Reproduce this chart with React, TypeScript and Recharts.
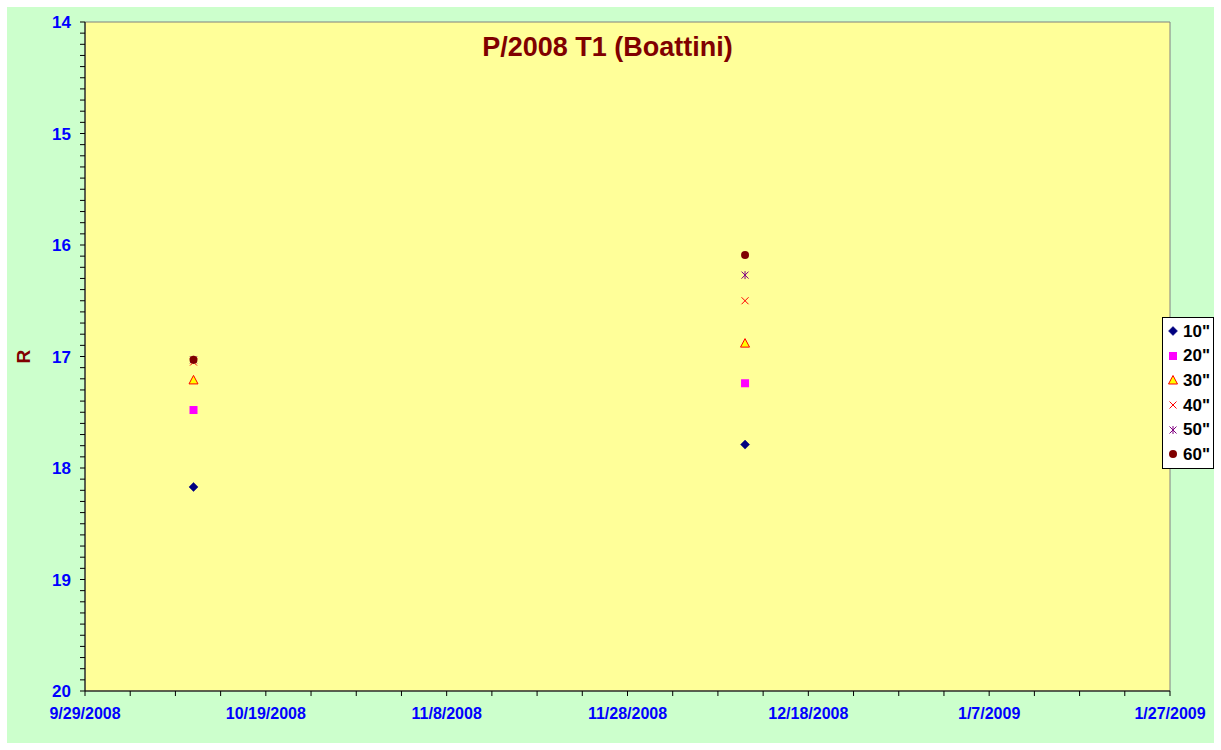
import { ScatterChart, Scatter, XAxis, YAxis, ReferenceArea, Legend } from "recharts";

// observations (UT date) and R magnitudes per aperture
const obsDates = ["2008-10-11", "2008-12-11"];
const mag10 = [18.17, 17.79];
const mag20 = [17.48, 17.24];
const mag30 = [17.21, 16.88];
const mag40 = [17.05, 16.5];
const mag50 = [17.03, 16.27];
const mag60 = [17.03, 16.09];

const seriesNames = ['10"', '20"', '30"', '40"', '50"', '60"'];
const majorDates = [
  "2008-09-29",
  "2008-10-19",
  "2008-11-08",
  "2008-11-28",
  "2008-12-18",
  "2009-01-07",
  "2009-01-27",
];
const yMajorTicks = [14, 15, 16, 17, 18, 19, 20];

const FONT = "Arial, 'Liberation Sans', sans-serif";
const DAY = 86400000;

type Kind = "diamond" | "square" | "triangle" | "cross" | "star" | "circle";

const seriesStyle: { kind: Kind; color: string }[] = [
  { kind: "diamond", color: "#000080" },
  { kind: "square", color: "#FF00FF" },
  { kind: "triangle", color: "#FF0000" },
  { kind: "cross", color: "#FF0000" },
  { kind: "star", color: "#800080" },
  { kind: "circle", color: "#800000" },
];

const toTs = (s: string) => new Date(s + "T00:00:00Z").getTime();

const majorTs = majorDates.map(toTs);
const xStart = majorTs[0];
const xEnd = majorTs[majorTs.length - 1];
const xTicks = Array.from({ length: (xEnd - xStart) / (5 * DAY) + 1 }, (_, i) => xStart + i * 5 * DAY);
const yTicks = Array.from({ length: 61 }, (_, i) => Math.round((14 + i * 0.1) * 10) / 10);

const allMags = [mag10, mag20, mag30, mag40, mag50, mag60];
const seriesData = allMags.map((mags) => mags.map((m, i) => ({ x: toTs(obsDates[i]), y: m })));

function formatDate(ts: number): string {
  if (!majorTs.includes(ts)) return "";
  const d = new Date(ts);
  return `${d.getUTCMonth() + 1}/${d.getUTCDate()}/${d.getUTCFullYear()}`;
}

function formatMag(v: number): string {
  const r = Math.round(v);
  return Math.abs(v - r) < 1e-6 && yMajorTicks.includes(r) ? String(r) : "";
}

function Marker({ kind, color, cx, cy }: { kind: Kind; color: string; cx: number; cy: number }) {
  switch (kind) {
    case "diamond":
      return (
        <polygon
          points={`${cx},${cy - 4.5} ${cx + 4.5},${cy} ${cx},${cy + 4.5} ${cx - 4.5},${cy}`}
          fill={color}
          stroke={color}
          strokeWidth={0.5}
        />
      );
    case "square":
      return <rect x={cx - 4} y={cy - 4} width={8} height={8} fill={color} />;
    case "triangle":
      return (
        <polygon
          points={`${cx},${cy - 4.5} ${cx + 4.5},${cy + 4} ${cx - 4.5},${cy + 4}`}
          fill="#FFFF00"
          stroke={color}
          strokeWidth={1}
        />
      );
    case "cross":
      return (
        <g stroke={color} strokeWidth={1}>
          <line x1={cx - 3.5} y1={cy - 3.5} x2={cx + 3.5} y2={cy + 3.5} />
          <line x1={cx - 3.5} y1={cy + 3.5} x2={cx + 3.5} y2={cy - 3.5} />
        </g>
      );
    case "star":
      return (
        <g stroke={color} strokeWidth={1}>
          <line x1={cx - 3.5} y1={cy - 3.5} x2={cx + 3.5} y2={cy + 3.5} />
          <line x1={cx - 3.5} y1={cy + 3.5} x2={cx + 3.5} y2={cy - 3.5} />
          <line x1={cx} y1={cy - 4} x2={cx} y2={cy + 4} />
        </g>
      );
    default:
      return <circle cx={cx} cy={cy} r={4} fill={color} />;
  }
}

function LegendBox({ payload }: any) {
  return (
    <div
      style={{
        background: "#FFFFFF",
        border: "1px solid #000000",
        boxSizing: "border-box",
        width: 52,
        paddingTop: 1,
        paddingBottom: 1,
      }}
    >
      {(payload ?? []).map((entry: any) => {
        const idx = seriesNames.indexOf(entry.value);
        const st = seriesStyle[idx] ?? seriesStyle[0];
        return (
          <div key={entry.value} style={{ display: "flex", alignItems: "center", height: 24.6 }}>
            <svg width={20} height={20} style={{ display: "block" }}>
              <Marker kind={st.kind} color={st.color} cx={10} cy={10} />
            </svg>
            <span style={{ fontFamily: FONT, fontWeight: "bold", fontSize: 17, color: "#000", lineHeight: 1 }}>
              {entry.value}
            </span>
          </div>
        );
      })}
    </div>
  );
}

const xTickStyle = { fill: "#0000FF", fontSize: 16, fontWeight: "bold", fontFamily: FONT };
const yTickStyle = { fill: "#0000FF", fontSize: 17, fontWeight: "bold", fontFamily: FONT };

export default function App() {
  return (
    <div
      style={{
        position: "absolute",
        left: 7,
        top: 7,
        width: 1207,
        height: 736,
        background: "#CCFFCC",
      }}
    >
      <div
        style={{
          position: "absolute",
          left: -3,
          top: 27,
          width: 1207,
          textAlign: "center",
          fontFamily: FONT,
          fontWeight: "bold",
          fontSize: 27,
          lineHeight: "27px",
          color: "#800000",
          zIndex: 2,
          pointerEvents: "none",
        }}
      >
        P/2008 T1 (Boattini)
      </div>
      <ScatterChart width={1207} height={736} margin={{ top: 15, right: 44, bottom: 0, left: 0 }}>
        <ReferenceArea
          x1={xStart}
          x2={xEnd}
          y1={14}
          y2={20}
          fill="#FFFF99"
          fillOpacity={1}
          stroke="#808080"
          strokeWidth={1}
        />
        <XAxis
          dataKey="x"
          type="number"
          domain={[xStart, xEnd]}
          ticks={xTicks}
          interval={0}
          allowDataOverflow
          tickFormatter={formatDate}
          tick={xTickStyle}
          height={52}
          tickSize={5}
          tickMargin={12}
          stroke="#000000"
          axisLine={{ stroke: "#000000" }}
          tickLine={{ stroke: "#000000" }}
        />
        <YAxis
          dataKey="y"
          type="number"
          domain={[14, 20]}
          reversed
          ticks={yTicks}
          interval={0}
          allowDataOverflow
          tickFormatter={formatMag}
          tick={yTickStyle}
          width={78}
          tickSize={5}
          tickMargin={9}
          stroke="#000000"
          axisLine={{ stroke: "#000000" }}
          tickLine={{ stroke: "#000000" }}
          label={{
            value: "R",
            angle: -90,
            position: "insideLeft",
            offset: 16,
            style: { textAnchor: "middle", fill: "#800000", fontSize: 19, fontWeight: "bold", fontFamily: FONT },
          }}
        />
        {seriesData.map((data, i) => (
          <Scatter
            key={seriesNames[i]}
            name={seriesNames[i]}
            data={data}
            fill={seriesStyle[i].color}
            isAnimationActive={false}
            shape={(p: any) => (
              <Marker kind={seriesStyle[i].kind} color={seriesStyle[i].color} cx={p.cx} cy={p.cy} />
            )}
          />
        ))}
        <Legend
          layout="vertical"
          align="center"
          verticalAlign="middle"
          wrapperStyle={{ left: 1155, top: 310, width: 52 }}
          content={<LegendBox />}
        />
      </ScatterChart>
    </div>
  );
}
